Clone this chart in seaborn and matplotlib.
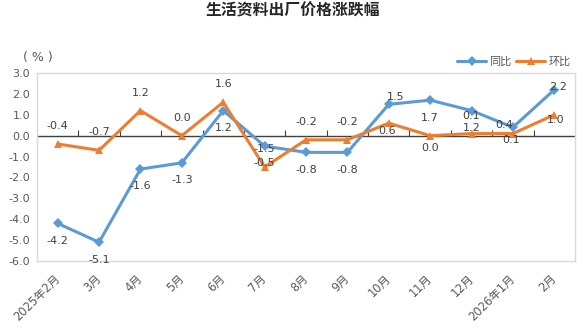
import numpy as np
import pandas as pd
import seaborn as sns
import matplotlib.pyplot as plt

# -----------------------------------------------
# 1. DADOS
# -----------------------------------------------

meses = ["2025年2月", "3月", "4月", "5月", "6月", "7月", "8月", "9月",
         "10月", "11月", "12月", "2026年1月", "2月"]
tongbi = [-4.2, -5.1, -1.6, -1.3, 1.2, -0.5, -0.8, -0.8, 1.5, 1.7, 1.2, 0.4, 2.2]
huanbi = [-0.4, -0.7, 1.2, 0.0, 1.6, -1.5, -0.2, -0.2, 0.6, 0.0, 0.1, 0.1, 1.0]
y_ticks = [3.0, 2.0, 1.0, 0.0, -1.0, -2.0, -3.0, -4.0, -5.0, -6.0]

# deslocamento dos rótulos (pontos)
off_tb = [(0, -12.5)] * 8 + [(5, 5), (0, -13), (0, -12.5), (-6.5, 2), (2.5, 2.2)]
off_hb = [(0, 13)] * 8 + [(-1.5, -6), (0, -8.6), (0, 13), (-1.5, -4.3), (0.7, -3.6)]

AZUL = "#5B9BD5"
LARANJA = "#ED7D31"
CINZA_TXT = "#595959"

# -----------------------------------------------
# 2. GRÁFICO
# -----------------------------------------------

sns.set_style("white")
plt.rcParams["font.family"] = ["DejaVu Sans", "Noto Sans CJK SC"]

idx = np.arange(len(meses))
df = pd.DataFrame({
    "x": np.concatenate([idx, idx]),
    "valor": tongbi + huanbi,
    "serie": ["同比"] * len(meses) + ["环比"] * len(meses),
})

fig = plt.figure(figsize=(5.85, 3.28), dpi=100)
ax = fig.add_axes([37 / 585, 1 - 261 / 328, 538 / 585, 188 / 328])

# linha do zero
ax.axhline(0, color="#404040", linewidth=1.0, zorder=1)

sns.lineplot(data=df, x="x", y="valor", hue="serie", style="serie",
             markers={"同比": "D", "环比": "^"}, dashes=False,
             palette={"同比": AZUL, "环比": LARANJA},
             linewidth=2.2, markersize=5.5, markeredgewidth=0, ax=ax, zorder=3)

ax.set_xlim(-0.5, len(meses) - 0.5)
ax.set_ylim(-6.0, 3.0)
ax.set_yticks(y_ticks)
ax.set_yticklabels([f"{v:.1f}" for v in y_ticks], fontsize=8, color=CINZA_TXT)
ax.set_xticks(idx)
ax.set_xticklabels(meses, rotation=45, ha="right", va="center",
                   rotation_mode="anchor", fontsize=8.3, color=CINZA_TXT)
ax.tick_params(axis="both", length=0)
ax.tick_params(axis="x", pad=11)
ax.tick_params(axis="y", pad=5)
ax.set_xlabel("")
ax.set_ylabel("")

for s in ax.spines.values():
    s.set_color("#D9D9D9")
    s.set_linewidth(1)

# marcas entre categorias sobre o zero
eixo0 = ax.secondary_xaxis(6.0 / 9.0)
eixo0.set_xticks(np.arange(0.5, len(meses) - 0.5, 1.0))
eixo0.set_xticklabels([])
eixo0.tick_params(direction="out", length=4, color="#404040", width=0.8)
for s in eixo0.spines.values():
    s.set_visible(False)

# rótulos de dados
for i in idx:
    ax.annotate(f"{tongbi[i]:.1f}", (i, tongbi[i]), xytext=off_tb[i],
                textcoords="offset points", ha="center", va="center",
                fontsize=8, color="#404040")
    ax.annotate(f"{huanbi[i]:.1f}", (i, huanbi[i]), xytext=off_hb[i],
                textcoords="offset points", ha="center", va="center",
                fontsize=8, color="#404040")

handles, labels = ax.get_legend_handles_labels()
ax.legend(handles, labels, ncol=2, loc="center right",
          bbox_to_anchor=(1.0, 1.06), frameon=False, fontsize=8,
          handlelength=2.6, columnspacing=0.4, handletextpad=0.3,
          borderaxespad=0, labelcolor=CINZA_TXT)

fig.text(0.5, 1 - 11 / 328, "生活资料出厂价格涨跌幅", ha="center", va="center",
         fontsize=11.4, fontweight="bold", color="#262626")
fig.text(38 / 585, 1 - 57 / 328, "( % )", ha="center", va="center",
         fontsize=9, color=CINZA_TXT)

plt.savefig("out.png", dpi=100)
